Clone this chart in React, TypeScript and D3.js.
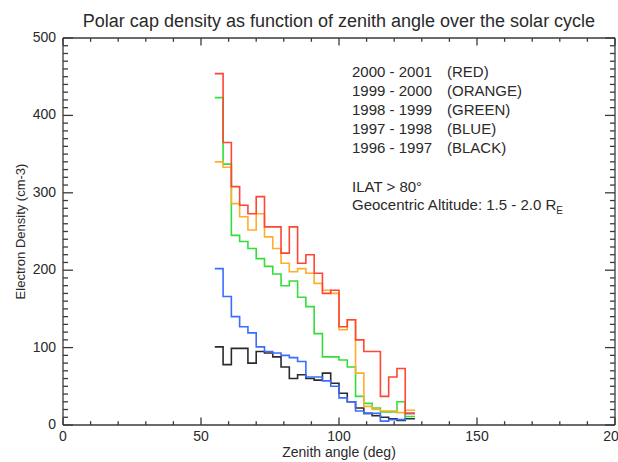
import React from "react";
import * as d3 from "d3";

// ---- data ----
const binStarts = [55, 58, 61, 64, 67, 70, 73, 76, 79, 82, 85, 88, 91, 94, 97, 100, 103, 106, 109, 112, 115, 118, 121, 124];
const binEnd = 127.5;

const red2000 = [454, 365, 308, 284, 273, 295, 256, 256, 222, 256, 209, 220, 196, 170, 174, 127, 136, 110, 95, 95, 37, 62, 73, 15];
const orange1999 = [340, 333, 286, 269, 252, 273, 243, 228, 209, 198, 202, 196, 183, 174, 170, 123, 136, 67, 24, 20, 18, 18, 16, 19];
const green1998 = [423, 337, 245, 237, 228, 215, 205, 195, 180, 186, 165, 153, 118, 88, 88, 84, 75, 37, 28, 22, 17, 17, 30, 11];
const blue1997 = [202, 166, 140, 127, 119, 101, 95, 93, 90, 87, 82, 62, 62, 57, 50, 35, 30, 18, 15, 15, 5, 7, 7, 15];
const black1996 = [101, 78, 99, 99, 80, 95, 93, 88, 75, 60, 65, 60, 58, 67, 54, 41, 30, 22, 15, 12, 10, 8, 6, 8];

const legendYears = ["2000 - 2001", "1999 - 2000", "1998 - 1999", "1997 - 1998", "1996 - 1997"];
const legendNames = ["(RED)", "(ORANGE)", "(GREEN)", "(BLUE)", "(BLACK)"];

const xMajorTicks = [0, 50, 100, 150, 200];
const yMajorTicks = [0, 100, 200, 300, 400, 500];

const series = [
  { values: black1996, color: "#2b2b2b" },
  { values: blue1997, color: "#3a6cff" },
  { values: green1998, color: "#35dd3a" },
  { values: orange1999, color: "#ffad2a" },
  { values: red2000, color: "#ff4535" },
];

const W = 618;
const H = 462;
const FONT = "'Liberation Sans', Arial, Helvetica, sans-serif";
const AXIS = "#3a3a3a";
const TXT = "#2a2a2a";

export default function App() {
  const x = d3.scaleLinear().domain([0, 200]).range([63, 615]);
  const y = d3.scaleLinear().domain([0, 500]).range([425, 38]);
  const [x0, x1] = x.range();
  const [y0, y1] = y.range();

  const xMinor = x.ticks(20);
  const yMinor = y.ticks(50);

  const line = d3
    .line<[number, number]>()
    .x((d) => x(d[0]))
    .y((d) => y(d[1]))
    .curve(d3.curveStepAfter);

  const pathFor = (vals: number[]) => {
    const pts: [number, number][] = binStarts.map((b, i) => [b, vals[i]]);
    pts.push([binEnd, vals[vals.length - 1]]);
    return line(pts) || "";
  };

  const xLenMajor = 7.5, xLenMinor = 3.8;
  const yLenMajor = 10, yLenMinor = 5;

  return (
    <svg width={W} height={H} style={{ position: "absolute", left: 0, top: 0, background: "#fff" }} fontFamily={FONT}>
      <rect x={0} y={0} width={W} height={H} fill="#fff" />
      {/* title */}
      <text x={339} y={27} textAnchor="middle" fontSize={18} fill={TXT}>
        Polar cap density as function of zenith angle over the solar cycle
      </text>

      {/* data */}
      <g fill="none" strokeWidth={1.6}>
        {series.map((s, i) => (
          <path key={i} d={pathFor(s.values)} stroke={s.color} />
        ))}
      </g>

      {/* axes frame */}
      <g stroke={AXIS} strokeWidth={1.3} fill="none">
        <line x1={x0} x2={x1} y1={y0} y2={y0} />
        <line x1={x0} x2={x1} y1={y1} y2={y1} />
        <line x1={x0} x2={x0} y1={y0} y2={y1} />
        <line x1={x1} x2={x1} y1={y0} y2={y1} />
        {xMinor.map((t) => {
          const L = xMajorTicks.includes(t) ? xLenMajor : xLenMinor;
          return (
            <g key={"xt" + t}>
              <line x1={x(t)} x2={x(t)} y1={y0} y2={y0 - L} />
              <line x1={x(t)} x2={x(t)} y1={y1} y2={y1 + L} />
            </g>
          );
        })}
        {yMinor.map((t) => {
          const L = yMajorTicks.includes(t) ? yLenMajor : yLenMinor;
          return (
            <g key={"yt" + t}>
              <line x1={x0} x2={x0 + L} y1={y(t)} y2={y(t)} />
              <line x1={x1} x2={x1 - L} y1={y(t)} y2={y(t)} />
            </g>
          );
        })}
      </g>

      {/* tick labels */}
      <g fontSize={14} fill={TXT}>
        {xMajorTicks.map((t) => (
          <text key={"xl" + t} x={x(t)} y={441} textAnchor="middle">
            {t}
          </text>
        ))}
        {yMajorTicks.map((t) => (
          <text key={"yl" + t} x={56} y={y(t) + 4} textAnchor="end">
            {t}
          </text>
        ))}
      </g>

      {/* axis titles */}
      <text x={339} y={457} textAnchor="middle" fontSize={14} fill={TXT}>
        Zenith angle (deg)
      </text>
      <text
        transform={`translate(25,${(y0 + y1) / 2}) rotate(-90)`}
        textAnchor="middle"
        fontSize={13}
        fill={TXT}
      >
        Electron Density (cm-3)
      </text>

      {/* legend */}
      <g fontSize={15} fill={TXT}>
        {legendYears.map((s, i) => (
          <g key={"lg" + i}>
            <text x={352} y={77 + i * 19}>{s}</text>
            <text x={447} y={77 + i * 19}>{legendNames[i]}</text>
          </g>
        ))}
        <text x={352} y={192}>ILAT &gt; 80°</text>
        <text x={352} y={210}>
          Geocentric Altitude: 1.5 - 2.0 R
          <tspan fontSize={10} dy={4}>E</tspan>
        </text>
      </g>
    </svg>
  );
}
